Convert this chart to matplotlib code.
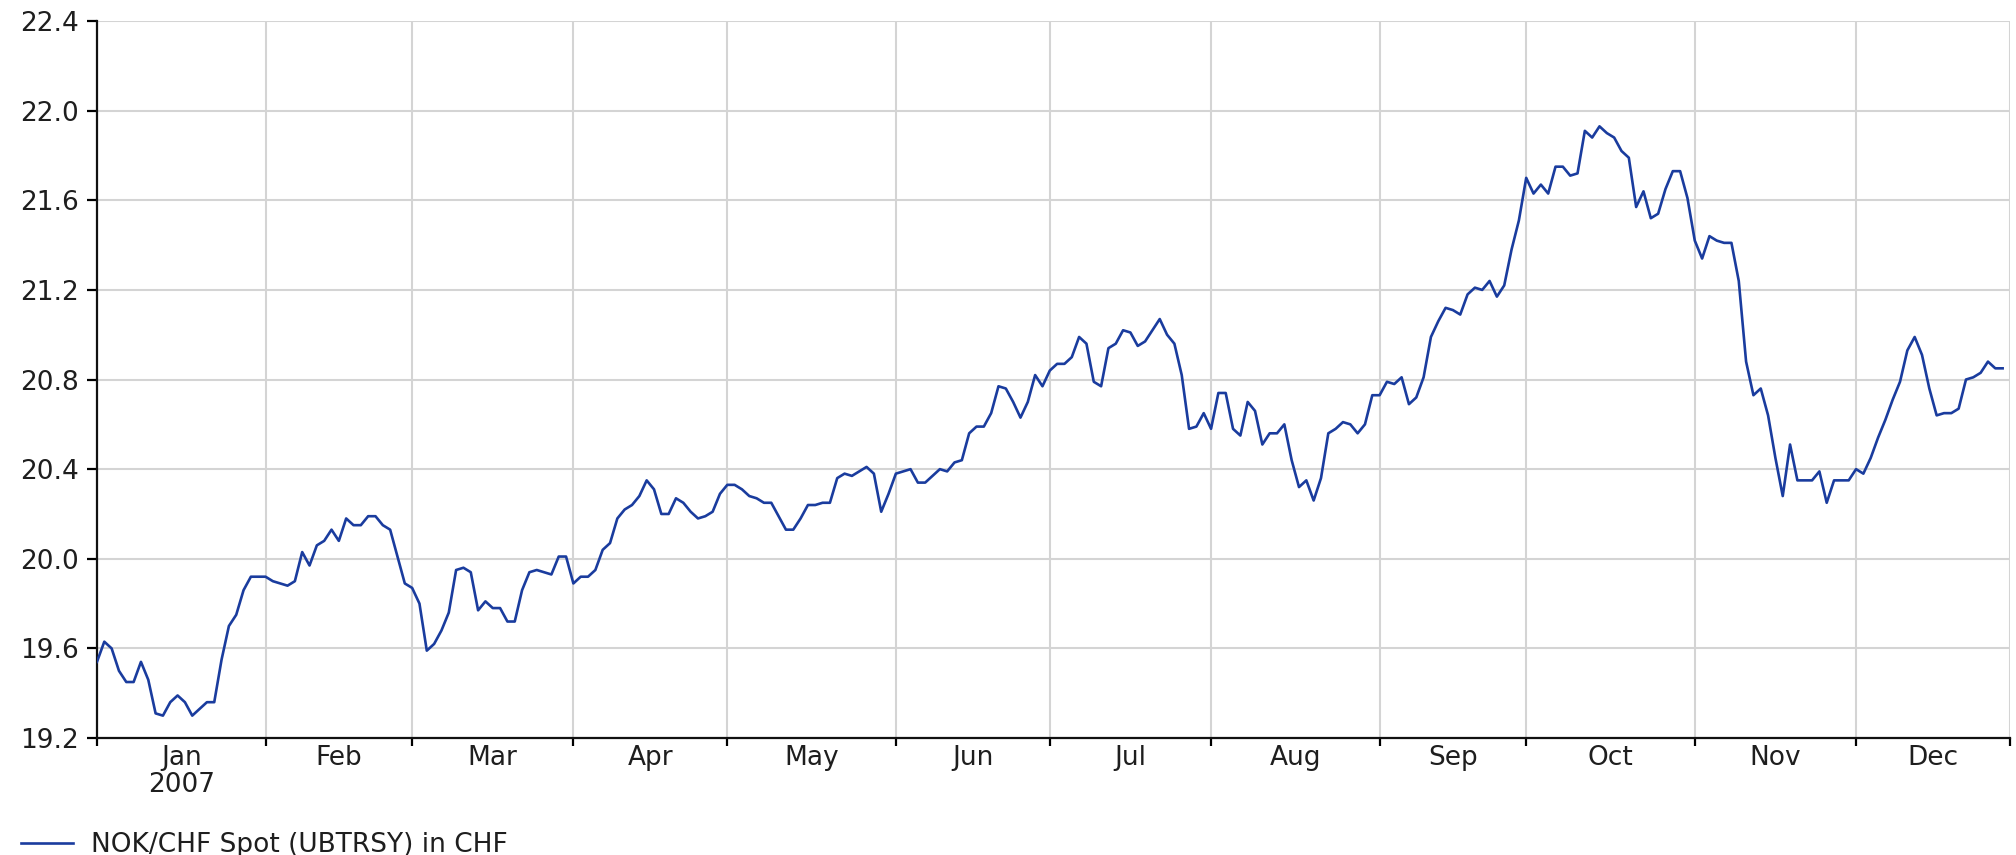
import numpy as np
import pandas as pd
import matplotlib
matplotlib.use('Agg')
import matplotlib.pyplot as plt

# NOK/CHF spot, one value per weekday of 2007
jan = [19.54, 19.63, 19.60, 19.50, 19.45, 19.45, 19.54, 19.46, 19.31, 19.30, 19.36, 19.39,
       19.36, 19.30, 19.33, 19.36, 19.36, 19.55, 19.70, 19.75, 19.86, 19.92, 19.92]
feb = [19.92, 19.90, 19.89, 19.88, 19.90, 20.03, 19.97, 20.06, 20.08, 20.13, 20.08, 20.18,
       20.15, 20.15, 20.19, 20.19, 20.15, 20.13, 20.01, 19.89]
mar = [19.87, 19.80, 19.59, 19.62, 19.68, 19.76, 19.95, 19.96, 19.94, 19.77, 19.81, 19.78,
       19.78, 19.72, 19.72, 19.86, 19.94, 19.95, 19.94, 19.93, 20.01, 20.01]
apr = [19.89, 19.92, 19.92, 19.95, 20.04, 20.07, 20.18, 20.22, 20.24, 20.28, 20.35, 20.31,
       20.20, 20.20, 20.27, 20.25, 20.21, 20.18, 20.19, 20.21, 20.29]
may = [20.33, 20.33, 20.31, 20.28, 20.27, 20.25, 20.25, 20.19, 20.13, 20.13, 20.18, 20.24,
       20.24, 20.25, 20.25, 20.36, 20.38, 20.37, 20.39, 20.41, 20.38, 20.21, 20.29]
jun = [20.38, 20.39, 20.40, 20.34, 20.34, 20.37, 20.40, 20.39, 20.43, 20.44, 20.56, 20.59,
       20.59, 20.65, 20.77, 20.76, 20.70, 20.63, 20.70, 20.82, 20.77]
jul = [20.84, 20.87, 20.87, 20.90, 20.99, 20.96, 20.79, 20.77, 20.94, 20.96, 21.02, 21.01,
       20.95, 20.97, 21.02, 21.07, 21.00, 20.96, 20.82, 20.58, 20.59, 20.65]
aug = [20.58, 20.74, 20.74, 20.58, 20.55, 20.70, 20.66, 20.51, 20.56, 20.56, 20.60, 20.44,
       20.32, 20.35, 20.26, 20.36, 20.56, 20.58, 20.61, 20.60, 20.56, 20.60, 20.73]
sep = [20.73, 20.79, 20.78, 20.81, 20.69, 20.72, 20.81, 20.99, 21.06, 21.12, 21.11, 21.09,
       21.18, 21.21, 21.20, 21.24, 21.17, 21.22, 21.38, 21.51]
oct = [21.70, 21.63, 21.67, 21.63, 21.75, 21.75, 21.71, 21.72, 21.91, 21.88, 21.93, 21.90,
       21.88, 21.82, 21.79, 21.57, 21.64, 21.52, 21.54, 21.65, 21.73, 21.73, 21.61]
nov = [21.42, 21.34, 21.44, 21.42, 21.41, 21.41, 21.24, 20.88, 20.73, 20.76, 20.64, 20.45,
       20.28, 20.51, 20.35, 20.35, 20.35, 20.39, 20.25, 20.35, 20.35, 20.35]
dec = [20.40, 20.38, 20.45, 20.54, 20.62, 20.71, 20.79, 20.93, 20.99, 20.91, 20.76, 20.64,
       20.65, 20.65, 20.67, 20.80, 20.81, 20.83, 20.88, 20.85, 20.85]

month_labels = ['Jan\n2007', 'Feb', 'Mar', 'Apr', 'May', 'Jun',
                'Jul', 'Aug', 'Sep', 'Oct', 'Nov', 'Dec']
y_ticks = [19.2, 19.6, 20.0, 20.4, 20.8, 21.2, 21.6, 22.0, 22.4]
series_name = 'NOK/CHF Spot (UBTRSY) in CHF'

values = jan + feb + mar + apr + may + jun + jul + aug + sep + oct + nov + dec
dates = pd.bdate_range('2007-01-01', '2007-12-31')
idx = np.arange(len(dates))

# x axis is a weekday index, month boundaries are the first weekday of each month
month_start = [int(np.argmax(dates.month == m)) for m in range(1, 13)] + [len(dates)]
month_mid = [(month_start[i] + month_start[i + 1]) / 2 for i in range(12)]

plt.rcParams['font.family'] = ['DejaVu Sans']
text_col = '#1e1e1e'
fs = 19

fig = plt.figure(figsize=(20.16, 8.55), dpi=100)
ax = fig.add_axes([0.0481, 0.1368, 0.9489, 0.8386])

ax.plot(idx, values, color='#1a3c9e', lw=1.9, label=series_name, zorder=3)

ax.set_xlim(0, len(dates))
ax.set_ylim(19.2, 22.4)
ax.set_yticks(y_ticks)
ax.set_yticklabels(['%.1f' % v for v in y_ticks])

ax.set_xticks(month_start)
ax.set_xticklabels([])
ax.set_xticks(month_mid, minor=True)
ax.set_xticklabels(month_labels, minor=True, linespacing=1.05)

ax.grid(True, which='major', color='#d4d4d4', lw=1.5, zorder=0)
ax.set_axisbelow(True)

for s in ['top', 'right']:
    ax.spines[s].set_visible(False)
for s in ['left', 'bottom']:
    ax.spines[s].set_linewidth(1.6)
    ax.spines[s].set_color('#111111')

ax.tick_params(axis='y', which='major', length=7, width=1.6, pad=6,
               labelsize=fs, labelcolor=text_col)
ax.tick_params(axis='x', which='major', length=6, width=1.6)
ax.tick_params(axis='x', which='minor', length=0, pad=5,
               labelsize=fs, labelcolor=text_col)

ax.legend(loc='center left', bbox_to_anchor=(0.005, 0.012), bbox_transform=fig.transFigure,
          frameon=False, fontsize=fs, handlelength=2.0, handletextpad=0.65,
          labelcolor=text_col, borderaxespad=0)

fig.savefig('out.png', dpi=100)
